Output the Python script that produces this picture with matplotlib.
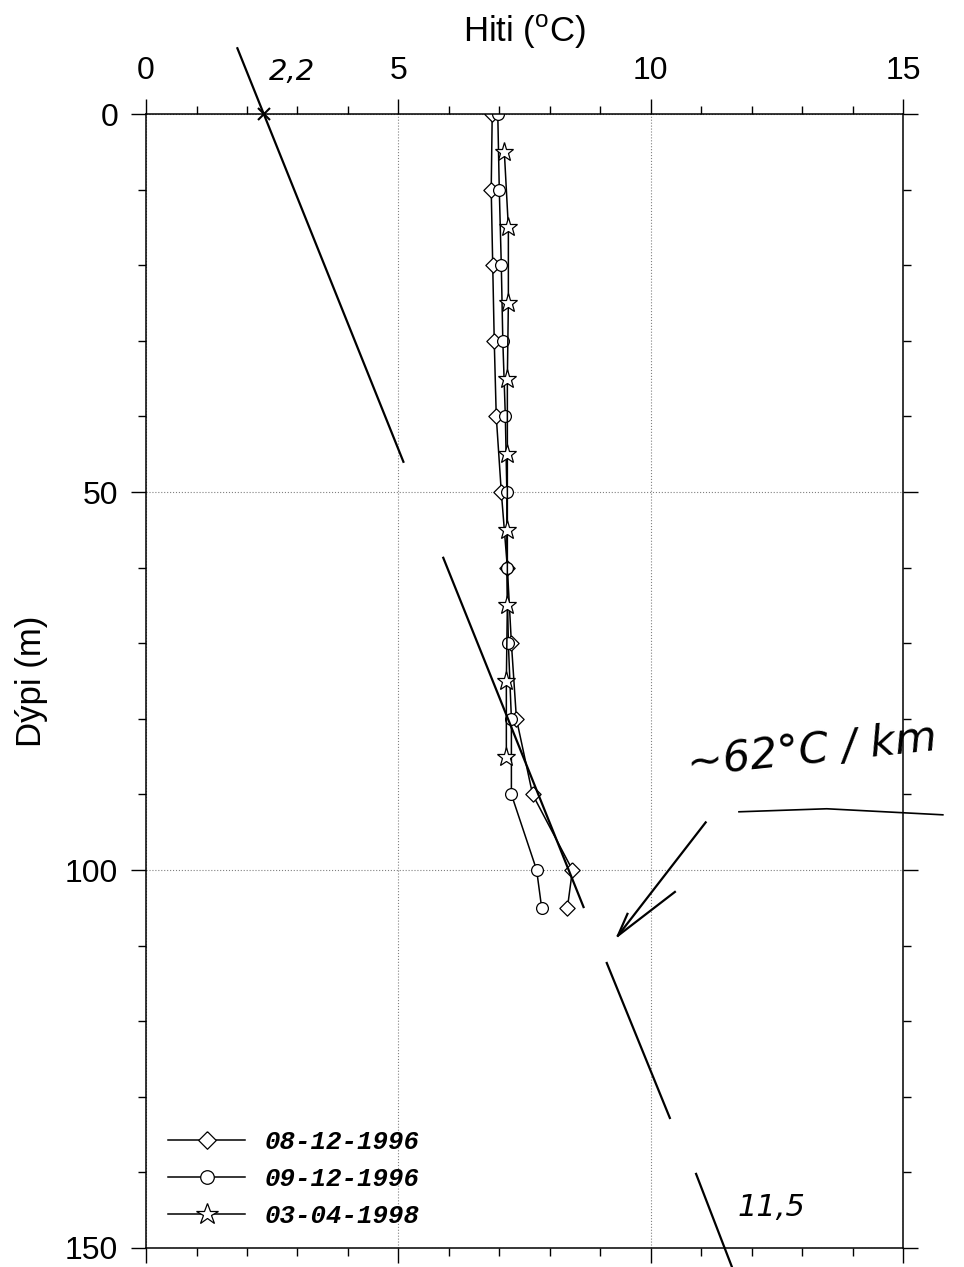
import numpy as np
import matplotlib
matplotlib.use("Agg")
import matplotlib.pyplot as plt
from matplotlib.ticker import MultipleLocator

plt.rcParams['font.family'] = ['Liberation Sans', 'DejaVu Sans']
plt.rcParams['mathtext.fontset'] = 'custom'
plt.rcParams['mathtext.rm'] = 'Liberation Sans'

# depth (m) and temperature (C) profiles
depth_dc = [0, 10, 20, 30, 40, 50, 60, 70, 80, 90, 100, 105]
temp_0812 = [6.86, 6.84, 6.87, 6.90, 6.94, 7.04, 7.16, 7.24, 7.34, 7.66, 8.45, 8.35]
temp_0912 = [6.97, 7.00, 7.04, 7.07, 7.12, 7.15, 7.15, 7.18, 7.24, 7.24, 7.74, 7.84]
depth_st = [5, 15, 25, 35, 45, 55, 65, 75, 85]
temp_0304 = [7.10, 7.18, 7.18, 7.16, 7.16, 7.16, 7.16, 7.14, 7.14]
labels = ['08-12-1996', '09-12-1996', '03-04-1998']

# hand drawn gradient lines (temp, depth)
hand_lines = [
    ([1.81, 5.10], [-8.7, 46.0]),
    ([5.89, 8.67], [58.7, 104.9]),
    ([9.13, 10.38], [112.3, 132.8]),
    ([10.90, 11.61], [140.2, 152.5]),
]
arrow_shaft = ([11.09, 9.35], [93.7, 108.7])
arrow_head = ([9.54, 9.35, 10.48], [105.8, 108.7, 102.9])
under_line = ([11.75, 13.49, 15.79], [92.3, 91.9, 92.7])

fig = plt.figure(figsize=(9.64, 12.67), dpi=100)
ax = fig.add_axes([0.1515, 0.015, 0.7852, 0.895])

diamond = [(0, 1), (1, 0), (0, -1), (-1, 0), (0, 1)]
kw = dict(color='black', lw=1.1, mfc='white', mec='black', mew=0.9)
ax.plot(temp_0812, depth_dc, marker=diamond, ms=11, label=labels[0], **kw)
ax.plot(temp_0912, depth_dc, marker='o', ms=8.5, label=labels[1], **kw)
ax.plot(temp_0304, depth_st, marker='*', ms=14, label=labels[2], **kw)

for xs, ys in hand_lines:
    ax.plot(xs, ys, color='black', lw=1.6, clip_on=False)
ax.plot(*arrow_shaft, color='black', lw=1.6, clip_on=False)
ax.plot(*arrow_head, color='black', lw=1.6, clip_on=False)
ax.plot(*under_line, color='black', lw=1.2, clip_on=False)
ax.plot([2.33], [0], marker='x', ms=8, mew=1.5, color='black', clip_on=False)

hand = dict(color='black', style='italic', family='DejaVu Sans', clip_on=False)
ax.text(2.9, -5.6, '2,2', fontsize=21, ha='center', va='center', **hand)
ax.text(12.4, 144.7, '11,5', fontsize=22, ha='center', va='center', **hand)
ax.text(13.2, 84.3, '~62°C / km', fontsize=31, ha='center', va='center',
        rotation=6, **hand)

ax.set_xlim(0, 15)
ax.set_ylim(150, 0)
ax.xaxis.set_major_locator(MultipleLocator(5))
ax.xaxis.set_minor_locator(MultipleLocator(1))
ax.yaxis.set_major_locator(MultipleLocator(50))
ax.yaxis.set_minor_locator(MultipleLocator(10))
ax.xaxis.tick_top()
ax.xaxis.set_label_position('top')
ax.tick_params(which='both', direction='out', top=True, bottom=True,
               left=True, right=True, labelbottom=False, labelright=False,
               labelsize=23, width=1.0)
ax.tick_params(which='major', length=11, pad=9)
ax.tick_params(which='minor', length=5.5)
for s in ax.spines.values():
    s.set_linewidth(1.1)
ax.grid(True, which='major', linestyle=':', color='gray', lw=0.8)

ax.set_xlabel('Hiti ($^{\\mathrm{o}}$C)', fontsize=25, labelpad=10)
ax.set_ylabel('Dýpi (m)', fontsize=25, labelpad=12)

ax.legend(loc='lower left', bbox_to_anchor=(0.029, 0.018), frameon=False,
          borderpad=0, borderaxespad=0, handlelength=3.0, handletextpad=0.75,
          labelspacing=0.5, markerscale=1.15,
          prop=dict(family='Liberation Mono', weight='bold', style='italic', size=18.5))

fig.savefig('out.png', dpi=100)
